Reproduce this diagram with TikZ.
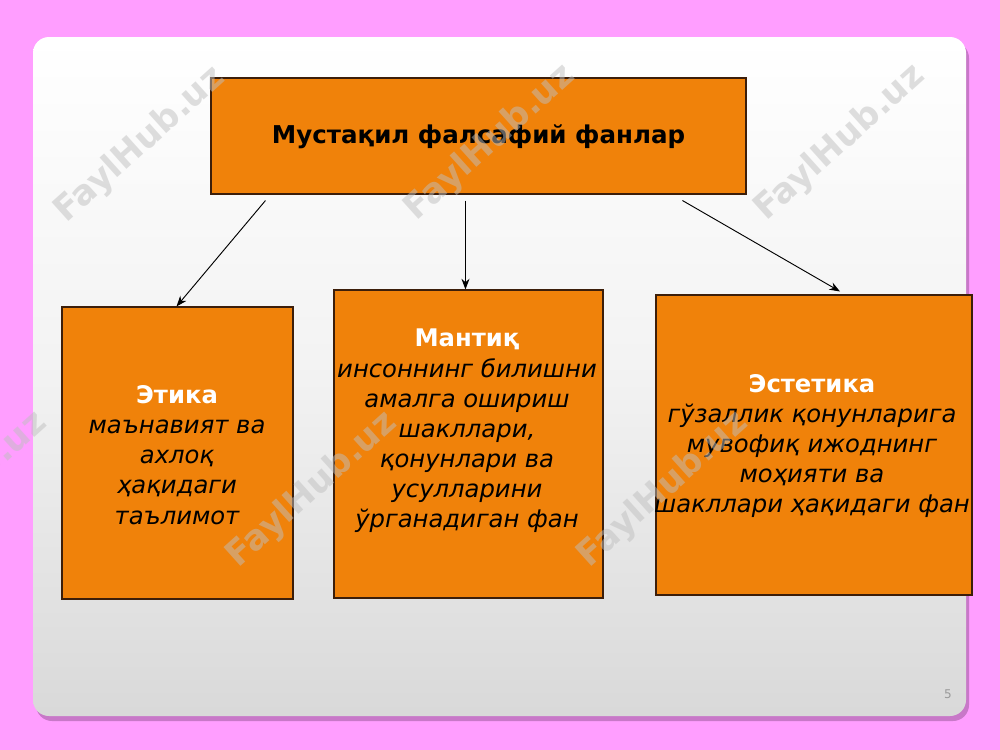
\documentclass[tikz,border=0pt]{standalone}
\usepackage{fontspec}
\setmainfont{DejaVu Sans}
\usetikzlibrary{fit,calc,arrows.meta}
\definecolor{bgpink}{RGB}{255,158,255}
\definecolor{shadowpink}{RGB}{200,120,200}
\definecolor{boxorange}{RGB}{240,130,10}
\definecolor{boxline}{RGB}{60,30,10}
\tikzset{
  box/.style={draw=boxline, line width=0.8pt, fill=boxorange, inner sep=0pt},
  title/.style={font=\bfseries\fontsize{18.4}{22}\selectfont, text=black},
  sub/.style={align=center, font=\fontsize{18.2}{22.6}\selectfont, text=black, inner sep=0pt},
  arr/.style={-{Stealth[length=8pt,width=6pt]}, line width=0.7pt, black},
  wm/.style={rotate=42, text=black!25, opacity=0.5, font=\bfseries\fontsize{26}{26}\selectfont}
}
\begin{document}
\begin{tikzpicture}[x=0.75pt,y=-0.75pt]
\useasboundingbox (0,0) rectangle (1000,750);
\fill[bgpink] (0,0) rectangle (1000,750);
% slide shadow and slide
\fill[shadowpink, rounded corners=12] (36,42) rectangle (969,721);
\shade[top color=white, bottom color=black!15, middle color=black!5, rounded corners=12] (33,37) rectangle (966,716);
% boxes
\node[box, fit={(211,78) (746,194)}] (top) {};
\node[title] at ($(top.center)+(0,1)$) {Мустақил фалсафий фанлар};
\node[box, fit={(62,307) (293,599)}] (etika) {};
\node[sub] at (177,455) {{\bfseries\color{white}Этика}\\ \itshape маънавият ва\\ \itshape ахлоқ\\ \itshape ҳақидаги\\ \itshape таълимот};
\node[box, fit={(334,290) (603,598)}] (mantiq) {};
\node[sub] at (467,431) {{\bfseries\color{white}Мантиқ}\\ \itshape инсоннинг билишни\\ \itshape амалга ошириш\\ \itshape шакллари,\\ \itshape қонунлари ва\\ \itshape усулларини\\ \itshape ўрганадиган фан};
\node[box, fit={(656,295) (972,595)}] (estetika) {};
\node[sub] at (812,446) {{\bfseries\color{white}Эстетика}\\ \itshape гўзаллик қонунларига\\ \itshape мувофиқ ижоднинг\\ \itshape моҳияти ва\\ \itshape шакллари ҳақидаги фан};
% connectors
\coordinate (s1) at ($(top.south west)+(55,6)$);
\coordinate (s2) at ($(top.south west)+(255,6)$);
\coordinate (s3) at ($(top.south west)+(472,6)$);
\coordinate (e1) at ($(etika.north)+(-1,0)$);
\coordinate (e2) at (s2 |- mantiq.north);
\coordinate (e3) at ($(estetika.north)+(26,-3)$);
\draw[arr] (s1) -- (e1);
\draw[arr] (s2) -- (e2);
\draw[arr] (s3) -- (e3);
% page number
\node[text=black!40, font=\fontsize{9}{9}\selectfont] (pg) at (948,694) {5};
% watermarks
\node[wm] at (140,145) {FaylHub.uz};
\node[wm] at (490,143) {FaylHub.uz};
\node[wm] at (840,143) {FaylHub.uz};
\node[wm] at (312,490) {FaylHub.uz};
\node[wm] at (663,490) {FaylHub.uz};
\node[wm] at (-38,490) {FaylHub.uz};
\end{tikzpicture}
\end{document}
